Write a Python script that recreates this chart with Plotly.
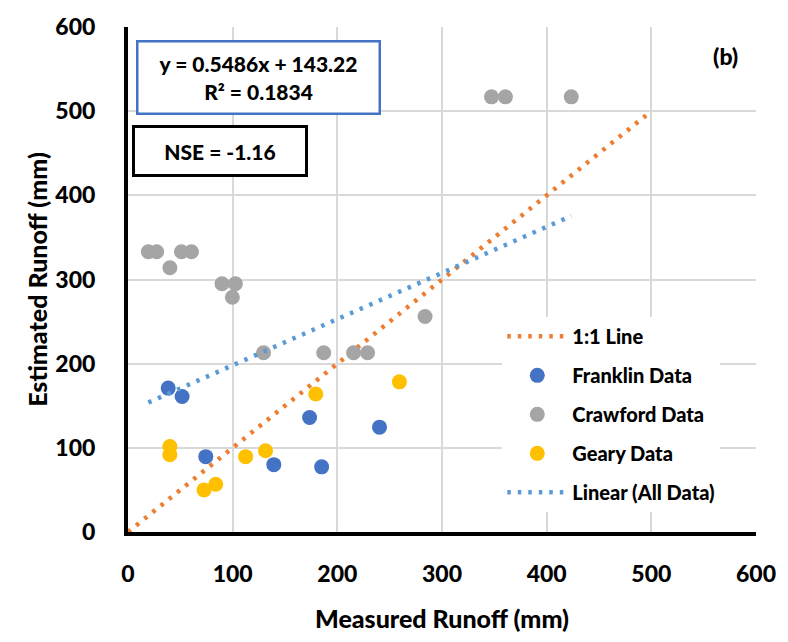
import plotly.graph_objects as go

# Data (mm)
franklin_x = [38.4, 51.7, 74.3, 139.3, 173.5, 185.0, 240.3]
franklin_y = [171, 161, 89.5, 80, 136, 77.4, 124.6]

crawford_x = [19.4, 27.4, 51.1, 60.6, 40.0, 89.8, 102.6, 99.7, 129.5, 187.0, 215.5, 228.9, 283.8, 347.3, 360.6, 423.5]
crawford_y = [333, 333, 333, 333, 314, 295, 295, 279, 213, 213, 213, 213, 256, 517, 517, 517]

geary_x = [40.0, 40.0, 72.7, 83.8, 112.4, 131.4, 179.4, 259.3]
geary_y = [101.5, 91.8, 50, 56.7, 89.5, 96.5, 164, 178.4]

one_to_one = [0, 495]
slope, intercept = 0.5486, 143.22

all_x = franklin_x + crawford_x + geary_x
trend_x = [min(all_x), max(all_x)]
trend_y = [slope * v + intercept for v in trend_x]

ticks = [0, 100, 200, 300, 400, 500, 600]

FONT = "Lato"
W = 900
DOT = "3.5px,7px"
fig = go.Figure()

fig.add_trace(go.Scatter(x=one_to_one, y=one_to_one, mode="lines", name="1:1 Line", legendgroup="a",
                         line=dict(color="#ED7D31", width=4.5, dash=DOT)))
fig.add_trace(go.Scatter(x=franklin_x, y=franklin_y, mode="markers", name="Franklin Data", legendgroup="b",
                         marker=dict(color="#4472C4", size=15)))
fig.add_trace(go.Scatter(x=crawford_x, y=crawford_y, mode="markers", name="Crawford Data", legendgroup="c",
                         marker=dict(color="#A5A5A5", size=15)))
fig.add_trace(go.Scatter(x=geary_x, y=geary_y, mode="markers", name="Geary Data", legendgroup="d",
                         marker=dict(color="#FFC000", size=15)))
fig.add_trace(go.Scatter(x=trend_x, y=trend_y, mode="lines", name="Linear (All Data)", legendgroup="e",
                         line=dict(color="#5B9BD5", width=4.5, dash=DOT)))

axis_common = dict(range=[0, 600], tickvals=ticks, showgrid=True, gridcolor="#D9D9D9",
                   gridwidth=1.5, zeroline=False, showline=True, linecolor="black",
                   linewidth=4, ticks="", tickfont=dict(family=FONT, size=23, color="black", weight=W))

fig.update_layout(
    width=788, height=642,
    margin=dict(l=128, r=30, t=21, b=108),
    paper_bgcolor="white", plot_bgcolor="white",
    xaxis=dict(**axis_common, ticklabelstandoff=18,
               title=dict(text="Measured Runoff (mm)", font=dict(family=FONT, size=25, color="black", weight=W),
                          standoff=26)),
    yaxis=dict(**axis_common, ticklabelstandoff=24,
               title=dict(text="Estimated Runoff (mm)", font=dict(family=FONT, size=25, color="black", weight=W),
                          standoff=2)),
    legend=dict(x=0.596, y=0.426, xanchor="left", yanchor="top", bgcolor="white",
                font=dict(family=FONT, size=20, color="black", weight=W),
                itemwidth=60, tracegroupgap=10),
    showlegend=True,
)

fig.add_annotation(xref="paper", yref="paper", x=0.013, y=0.974, xanchor="left", yanchor="top",
                   text="y = 0.5486x + 143.22<br>R² = 0.1834",
                   showarrow=False, font=dict(family=FONT, size=21, color="black", weight=W),
                   bordercolor="#4472C4", borderwidth=2.5, bgcolor="white",
                   width=236, height=66, borderpad=2, align="center")
fig.add_annotation(xref="paper", yref="paper", x=0.006, y=0.806, xanchor="left", yanchor="top",
                   text="NSE = -1.16",
                   showarrow=False, font=dict(family=FONT, size=21, color="black", weight=W),
                   bordercolor="black", borderwidth=3, bgcolor="white",
                   width=168, height=44, borderpad=1, align="center")
fig.add_annotation(xref="paper", yref="paper", x=0.975, y=0.943, xanchor="right", yanchor="middle",
                   text="(b)", showarrow=False, font=dict(family=FONT, size=23, color="black", weight=W))

fig.write_html("out.html")
